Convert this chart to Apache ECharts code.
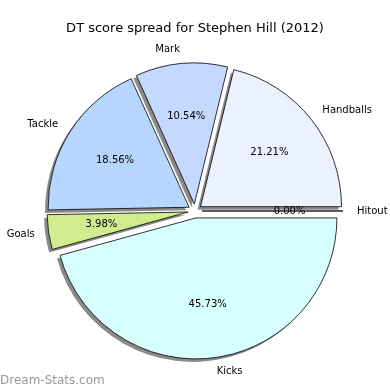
<!DOCTYPE html>
<html><head><meta charset="utf-8">
<script src="https://cdn.jsdelivr.net/npm/echarts@6/dist/echarts.min.js"></script>
<style>html,body{margin:0;padding:0;background:#fff}#c{width:390px;height:390px}</style>
</head><body><div id="c"></div>
<script>
const categories = ['Handballs', 'Mark', 'Tackle', 'Goals', 'Kicks', 'Hitout'];
const percents = [21.21, 10.54, 18.56, 3.98, 45.73, 0.00];
const colors = ['#EBF1FF', '#C5D8FF', '#B6D6FF', '#D0EC8C', '#D8FFFF', '#FFFFFF'];

const FONT = 'DejaVu Sans';
const R = 141, C = [195, 211], OFF = 7, SH = 3;

const mkData = (color) => categories.map((n, i) => ({
  name: n, value: percents[i], selected: true,
  itemStyle: { color: color || colors[i] }
}));

const common = {
  type: 'pie', startAngle: 0, clockwise: false,
  selectedMode: 'multiple', selectedOffset: OFF, avoidLabelOverlap: false,
  minAngle: 0, emphasis: { disabled: true }, silent: true
};

const chart = echarts.init(document.getElementById('c'), null, { renderer: 'canvas' });
chart.setOption({
  animation: false,
  backgroundColor: '#fff',
  title: {
    text: 'DT score spread for Stephen Hill (2012)', left: 'center', top: 17,
    textStyle: { fontFamily: FONT, fontSize: 13, fontWeight: 'normal', color: '#000' }
  },
  graphic: [{
    type: 'text', left: 0, bottom: 3,
    style: { text: 'Dream-Stats.com', fontFamily: FONT, fontSize: 12, fontWeight: 'normal', fill: '#999999' }
  }],
  series: [
    Object.assign({}, common, {
      center: [C[0] - SH, C[1] + SH], radius: [0, R], z: 1,
      itemStyle: { borderWidth: 0 },
      label: { show: false }, labelLine: { show: false },
      data: mkData('#8a8a8a')
    }),
    Object.assign({}, common, {
      center: C, radius: [0, R], z: 2,
      itemStyle: { borderColor: '#000', borderWidth: 0.8 },
      label: {
        show: true, position: 'outside', formatter: '{b}',
        fontFamily: FONT, fontSize: 10, color: '#000', distanceToLabelLine: 0
      },
      labelLine: { show: false, length: 14, length2: 0 },
      data: mkData(null)
    }),
    Object.assign({}, common, {
      center: C, radius: [0, R * 1.2], z: 3,
      itemStyle: { borderWidth: 0 },
      label: {
        show: true, position: 'inside',
        formatter: (p) => p.value.toFixed(2) + '%',
        fontFamily: FONT, fontSize: 10, color: '#000'
      },
      labelLine: { show: false },
      data: mkData('rgba(0,0,0,0)')
    })
  ]
});
</script></body></html>
